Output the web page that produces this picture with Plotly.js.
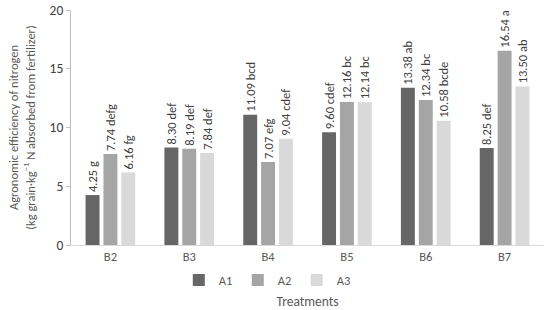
<!DOCTYPE html>
<html><head><meta charset="utf-8">
<script src="https://cdn.plot.ly/plotly-3.0.1.min.js"></script>
<style>html,body{margin:0;padding:0;background:#fff}#chart{width:550px;height:310px}</style>
</head><body><div id="chart"></div>
<script>
const categories = ['B2','B3','B4','B5','B6','B7'];
const seriesNames = ['A1','A2','A3'];
const a1 = [4.25, 8.30, 11.09, 9.60, 13.38, 8.25];
const a2 = [7.74, 8.19, 7.07, 12.16, 12.34, 16.54];
const a3 = [6.16, 7.84, 9.04, 12.14, 10.58, 13.50];
const a1Letters = ['g','def','bcd','cdef','ab','def'];
const a2Letters = ['defg','def','efg','bc','bc','a'];
const a3Letters = ['fg','def','cdef','bc','bcde','ab'];
const colors = ['#666666','#a5a5a5','#d9d9d9'];
const yTicks = [0,5,10,15,20];

const FONT = 'Calibri, Carlito, Lato, sans-serif';
const vals = [a1,a2,a3], letters=[a1Letters,a2Letters,a3Letters];
const traces = vals.map((v,i)=>({
  type:'bar', name:seriesNames[i], x:categories, y:v,
  marker:{color:colors[i]},
  text:v.map((d,j)=>d.toFixed(2)+' '+letters[i][j]),
  textposition:'outside', textangle:-90, constraintext:'none', cliponaxis:false,
  textfont:{family:FONT, size:12.5, color:'#404040'},
  hoverinfo:'none'
}));
const layout = {
  width:550, height:310,
  margin:{l:71,r:6,t:10,b:65},
  paper_bgcolor:'#fff', plot_bgcolor:'#fff',
  font:{family:FONT, color:'#595959', size:12},
  barmode:'group', bargap:0.32, bargroupgap:0.22,
  showlegend:true,
  legend:{orientation:'h', x:0.415, xanchor:'center', y:-0.15, yanchor:'middle',
    font:{size:12.5,color:'#595959'}, itemwidth:30, entrywidth:14, traceorder:'normal', bgcolor:'rgba(0,0,0,0)'},
  xaxis:{showline:true, linecolor:'#d9d9d9', linewidth:1, ticks:'', showgrid:false,
    tickfont:{size:12.5,color:'#595959'},
    title:{text:'Treatments', font:{size:13.5,color:'#595959'}, standoff:34}},
  yaxis:{range:[0,20], tickvals:yTicks, showline:true, linecolor:'#bfbfbf', ticks:'outside', ticklen:4, tickcolor:'#bfbfbf',
    showgrid:false, zeroline:false, tickfont:{size:13.5,color:'#404040'},
    title:{text:'Agronomic efficiency of nitrogen<br>(kg grain·kg<sup>−1</sup> N absorbed from fertilizer)', font:{size:12.5,color:'#595959'}, standoff:11}}
};
Plotly.newPlot('chart', traces, layout, {staticPlot:true});
</script></body></html>
